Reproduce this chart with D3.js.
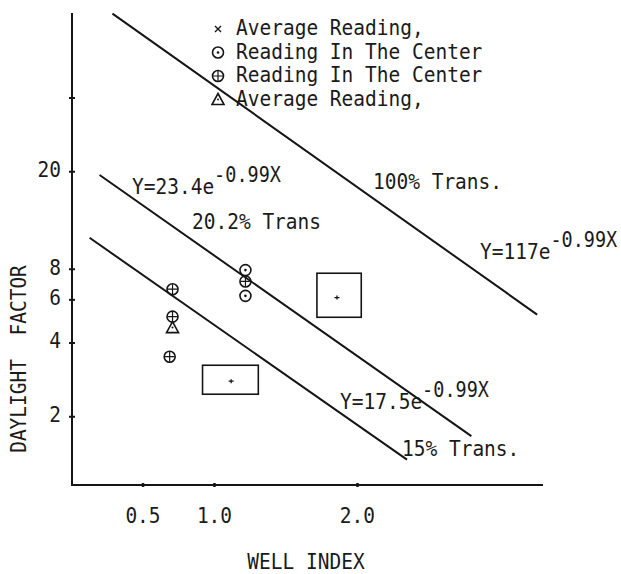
<!DOCTYPE html>
<html>
<head>
<meta charset="utf-8">
<script src="https://cdn.jsdelivr.net/npm/d3@7"></script>
<style>
  body { margin: 0; background: #fff; }
  text { font-family: "DejaVu Sans Mono", "Liberation Mono", monospace; fill: #1a1a1a; white-space: pre; }
</style>
</head>
<body>
<div id="chart"></div>
<script>
// trend lines as [well index, daylight factor] end points
const line100 = [[0.29, 88], [3.26, 5.2]];
const line202 = [[0.20, 19.3], [2.80, 1.66]];
const line15 = [[0.13, 10.7], [2.35, 1.33]];

// readings
const plusCircle = [[0.71, 6.6], [0.71, 5.1], [0.69, 3.5], [1.22, 7.1]];
const dotCircle = [[1.22, 7.9], [1.22, 6.2]];
const triangles = [[0.71, 4.6]];

// range boxes: [xMin, xMax, yMin, yMax, xCenter, yCenter]
const boxes = [
    [1.72, 2.03, 5.07, 7.67, 1.86, 6.1],
    [0.92, 1.31, 2.46, 3.23, 1.12, 2.78]
];

const xTicks = [0.5, 1.0, 2.0];
const xTickLabels = ["0.5", "1.0", "2.0"];
const yTicks = [2, 4, 6, 8, 20, 40];
const yTickLabels = ["2", "4", "6", "8", "20", ""];

const width = 621, height = 574;
const fs = 19.5;
const sy = 1.12; // the typewriter face is a bit taller than DejaVu Mono

const svg = d3.select("#chart").append("svg")
    .attr("width", width)
    .attr("height", height);

const x = d3.scaleLinear().domain([0, 3.35]).range([71, 550]);
const y = d3.scaleLog().domain([1, 100]).range([490, 0]);

const ink = "#151515";

// axes
svg.append("line")
    .attr("x1", 72).attr("x2", 72)
    .attr("y1", 13).attr("y2", 486)
    .attr("stroke", ink).attr("stroke-width", 2);
svg.append("line")
    .attr("x1", 71).attr("x2", 543)
    .attr("y1", 485).attr("y2", 485)
    .attr("stroke", ink).attr("stroke-width", 2);

const yAxis = g => g
    .attr("transform", "translate(72,0)")
    .call(d3.axisLeft(y).tickValues(yTicks).tickSize(3)
        .tickFormat((d, i) => yTickLabels[i]))
    .call(g => g.select(".domain").remove());

const xAxis = g => g
    .attr("transform", "translate(0,485)")
    .call(d3.axisBottom(x).tickValues(xTicks).tickSize(3)
        .tickFormat((d, i) => xTickLabels[i]))
    .call(g => g.select(".domain").remove());

svg.append("g").call(yAxis)
    .call(g => g.selectAll(".tick line").attr("x2", 3).attr("x1", -3)
        .attr("stroke", ink).attr("stroke-width", 2))
    .call(g => g.selectAll(".tick text")
        .attr("x", -11).attr("y", -2).attr("dy", "0.35em")
        .attr("transform", `scale(1,${sy})`)
        .style("font-size", fs + "px")
        .style("font-family", "DejaVu Sans Mono")
        .attr("fill", ink));

svg.append("g").call(xAxis)
    .call(g => g.selectAll(".tick line").attr("y1", -2).attr("y2", 2)
        .attr("stroke", ink).attr("stroke-width", 2.5))
    .call(g => g.selectAll(".tick text")
        .attr("y", 38 / sy).attr("dy", 0)
        .attr("transform", `scale(1,${sy})`)
        .style("font-size", fs + "px")
        .style("font-family", "DejaVu Sans Mono")
        .attr("fill", ink));

function label(px, py, str, anchor, rot) {
    const g = svg.append("g")
        .attr("transform", `translate(${px},${py})${rot ? " rotate(" + rot + ")" : ""} scale(1,${sy})`);
    return g.append("text")
        .attr("text-anchor", anchor || "start")
        .style("font-size", fs + "px")
        .text(str);
}

// axis titles
label(306, 569, "WELL INDEX", "middle");
label(26, 359, "DAYLIGHT  FACTOR", "middle", -90);

// trend lines
const lineGen = d3.line().x(d => x(d[0])).y(d => y(d[1]));
[line100, line202, line15].forEach(l => {
    svg.append("path")
        .datum(l)
        .attr("d", lineGen)
        .attr("fill", "none")
        .attr("stroke", ink)
        .attr("stroke-width", 2);
});

// markers
function marker(g, type, cx, cy) {
    const s = g.append("g").attr("transform", `translate(${cx},${cy})`)
        .attr("stroke", ink).attr("fill", "none").attr("stroke-width", 1.6);
    if (type === "x") {
        s.append("path").attr("d", "M-3,-3L3,3M-3,3L3,-3").attr("stroke-width", 1.4);
    } else if (type === "dot") {
        s.append("circle").attr("r", 5.5);
        s.append("circle").attr("r", 1.3).attr("fill", ink).attr("stroke", "none");
    } else if (type === "plus") {
        s.append("circle").attr("r", 5.5);
        s.append("path").attr("d", "M-5,0L5,0M0,-5L0,5").attr("stroke-width", 1.2);
    } else if (type === "tri") {
        s.append("path").attr("d", "M0,-6L6,5L-6,5Z");
        s.append("circle").attr("r", 1).attr("fill", ink).attr("stroke", "none");
    }
}

const pts = svg.append("g");
plusCircle.forEach(d => marker(pts, "plus", x(d[0]), y(d[1])));
dotCircle.forEach(d => marker(pts, "dot", x(d[0]), y(d[1])));
triangles.forEach(d => marker(pts, "tri", x(d[0]), y(d[1])));

// boxes with their average reading
boxes.forEach(b => {
    svg.append("rect")
        .attr("x", x(b[0]))
        .attr("y", y(b[3]))
        .attr("width", x(b[1]) - x(b[0]))
        .attr("height", y(b[2]) - y(b[3]))
        .attr("fill", "none")
        .attr("stroke", ink)
        .attr("stroke-width", 1.6);
    svg.append("path")
        .attr("transform", `translate(${x(b[4])},${y(b[5])})`)
        .attr("d", "M-2.5,0L2.5,0M0,-2L0,2")
        .attr("stroke", ink)
        .attr("stroke-width", 1.3);
});

// legend
const legendRows = [
    ["x", "Average Reading,"],
    ["dot", "Reading In The Center"],
    ["plus", "Reading In The Center"],
    ["tri", "Average Reading,"]
];
legendRows.forEach((r, i) => {
    const by = 35 + i * 23.5;
    marker(svg, r[0], 218, by - 6);
    label(236, by, r[1]);
});

// equation and transmission labels
function eqLabel(px, py, base) {
    const t = label(px, py, "");
    t.append("tspan").text(base);
    t.append("tspan").attr("dy", -11).style("font-size", (fs - 1) + "px").text("-0.99X");
}

eqLabel(132, 194, "Y=23.4e");
eqLabel(480, 259, "Y=117e");
eqLabel(340, 409, "Y=17.5e");

label(192, 229, "20.2% Trans");
label(373, 189, "100% Trans.");
label(402, 456, "15% Trans.");
</script>
</body>
</html>
